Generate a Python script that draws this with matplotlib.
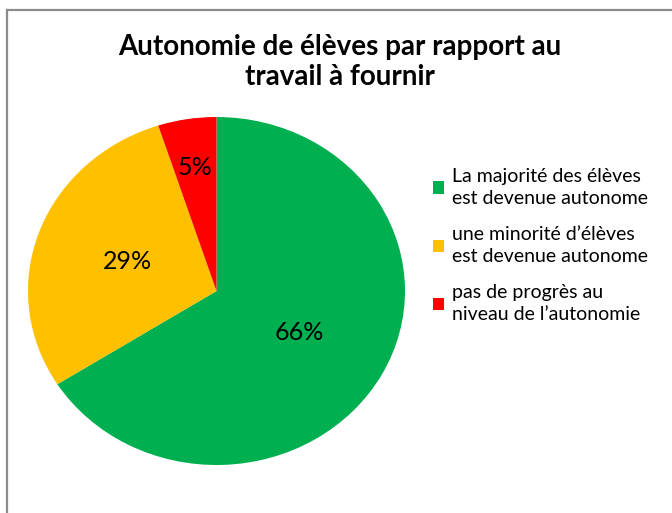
import numpy as np
import matplotlib.pyplot as plt
from matplotlib.lines import Line2D
from matplotlib.patches import Patch

plt.rcParams['font.family'] = ['Lato', 'DejaVu Sans']

labels = [
    "La majorité des élèves\nest devenue autonome",
    "une minorité d’élèves\nest devenue autonome",
    "pas de progrès au\nniveau de l’autonomie",
]
values = [66, 29, 5]
colors = ["#00B050", "#FFC000", "#FF0000"]

W, H = 672, 513
fig = plt.figure(figsize=(W / 100, H / 100), dpi=100)

# chart frame, clipped on the right and bottom like the screenshot
fx, fy = 7 / W, 1 - 10 / H
fig.add_artist(Line2D([fx, fx], [0, fy], color="#8c8c8c", lw=1.6))
fig.add_artist(Line2D([fx, 1], [fy, fy], color="#8c8c8c", lw=1.6))

# pie area (slightly wider than tall, as in the original)
ax = fig.add_axes([28 / W, 1 - 465 / H, 377 / W, 348 / H])
wedges, texts, autotexts = ax.pie(
    values, colors=colors, startangle=90, counterclock=False,
    autopct="%d%%", pctdistance=0.5,
    textprops=dict(fontsize=18, color="black"),
    wedgeprops=dict(linewidth=0),
)
ax.set_aspect("auto")
ax.set_xlim(-1, 1)
ax.set_ylim(-1, 1)

# small slice: label further out
w = wedges[2]
mid = np.deg2rad((w.theta1 + w.theta2) / 2)
autotexts[2].set_position((0.72 * np.cos(mid), 0.72 * np.sin(mid)))

fig.text(340 / W, 1 - 62 / H, "Autonomie de élèves par rapport au\ntravail à fournir",
         ha="center", va="center", fontsize=20, fontweight="bold", linespacing=1.2)

handles = [Patch(facecolor=c, edgecolor="none") for c in colors]
leg = fig.legend(handles, labels, loc="upper left", bbox_to_anchor=(425 / W, 1 - 160 / H),
                 frameon=False, fontsize=14, handlelength=0.6, handleheight=0.6,
                 handletextpad=0.4, labelspacing=1.0, borderaxespad=0)
for t in leg.get_texts():
    t.set_linespacing(1.35)

fig.savefig("out.png", dpi=100)
